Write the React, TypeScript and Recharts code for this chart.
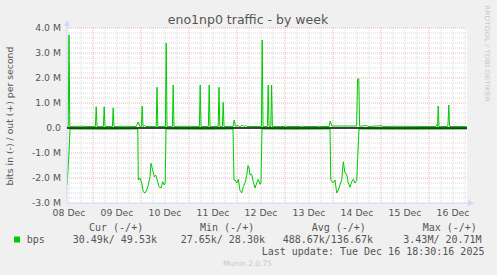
import React from 'react';
import { LineChart, Line, XAxis, YAxis, ReferenceLine } from 'recharts';

// hours counted from 08 Dec 00:00, values in Mbit/s
const dayLabels = ['08 Dec', '09 Dec', '10 Dec', '11 Dec', '12 Dec', '13 Dec', '14 Dec', '15 Dec', '16 Dec'];
const dayTicks = [12, 36, 60, 84, 108, 132, 156, 180, 204];
const yTicks = [-3, -2, -1, 0, 1, 2, 3, 4];

// out (+)
const outHours = [
  11, 11.6, 12, 12.4, 18, 22, 25.2, 25.6, 26, 29.2, 29.6, 30, 33.7, 34.1, 34.5, 40,
  45.6, 46.6, 47.4, 48.2, 48.6, 49, 49.8, 50.4, 55.6, 56, 56.4, 60.2, 60.6, 61,
  63.7, 64.1, 64.5, 70, 77.2, 77.6, 78, 81.7, 82.1, 82.5, 86.6, 87, 87.4, 88.7, 89.1, 89.5,
  94, 94.6, 95.2, 96.5, 97.2, 99, 99.6, 100.5, 101, 108.2, 108.6, 109, 111.2, 111.6, 112,
  112.9, 113.3, 113.7, 120, 120.4, 120.8, 128.2, 128.6, 129, 136.6, 137, 137.4,
  142, 142.6, 143.4, 148, 155.8, 156.3, 156.9, 157.3, 161, 161.4, 168.5, 169, 175, 190,
  195.5, 195.9, 196.3, 196.6, 197, 201.2, 201.5, 201.9, 202.3, 210.9,
];
const outValues = [
  0.06, 0.06, 3.72, 0.06, 0.07, 0.06, 0.06, 0.85, 0.06, 0.06, 0.85, 0.06, 0.06, 0.81, 0.06, 0.07,
  0.06, 0.24, 0.06, 0.06, 0.88, 0.06, 0.1, 0.06, 0.06, 1.63, 0.06, 0.06, 3.4, 0.06,
  0.06, 1.72, 0.06, 0.07, 0.06, 1.72, 0.06, 0.06, 1.72, 0.06, 0.06, 1.63, 0.06, 0.06, 1.03, 0.06,
  0.06, 0.32, 0.07, 0.1, 0.06, 0.11, 0.06, 0.1, 0.06, 0.06, 3.52, 0.06, 0.06, 1.72, 0.06,
  0.06, 1.72, 0.06, 0.06, 0.1, 0.06, 0.06, 0.09, 0.06, 0.06, 0.09, 0.06,
  0.06, 0.28, 0.08, 0.08, 0.08, 1.96, 1.96, 0.07, 0.1, 0.06, 0.09, 0.06, 0.07, 0.06,
  0.06, 0.13, 0.06, 0.88, 0.06, 0.06, 0.15, 0.92, 0.06, 0.06,
];

// in (-)
const inHours = [
  11, 12, 12.5, 30, 46.4, 46.65, 47.5, 48.35, 49.15, 50, 50.85, 51.65, 52.5, 53, 53.85,
  54.65, 55.35, 56.15, 57, 58, 58.85, 59.65, 60.1, 60.5, 80,
  94, 94.5, 95, 95.85, 96.65, 97.5, 98.35, 99.15, 100, 100.85, 101.5, 102, 102.5, 103.35,
  104.15, 105, 105.85, 106.65, 107.5, 108, 108.5, 125,
  142.5, 142.9, 144.15, 145, 145.85, 146.65, 147.5, 148.35, 149.15, 150, 150.85, 151.65,
  152.5, 153.35, 154.15, 155, 155.85, 157, 180, 210.9,
];
const inValues = [
  -2.3, -1.0, -0.04, -0.05, -0.04, -2.08, -2.0, -2.2, -2.55, -2.6, -2.48, -2.28, -1.95, -1.41, -1.68,
  -1.95, -1.88, -2.08, -2.35, -2.4, -2.15, -2.28, -2.2, -0.04, -0.05,
  -0.04, -2.08, -2.08, -2.2, -2.05, -2.5, -2.6, -2.35, -2.2, -1.9, -1.5, -1.6, -1.88, -1.85,
  -2.15, -2.4, -2.2, -2.05, -2.25, -2.2, -0.04, -0.05,
  -0.04, -2.08, -2.2, -2.08, -2.6, -2.48, -2.28, -2.08, -1.35, -1.8, -1.85, -2.2,
  -2.37, -2.15, -2.05, -2.2, -2.1, -0.04, -0.05, -0.04,
];

const legendHeaders = ['Cur (-/+)', 'Min (-/+)', 'Avg (-/+)', 'Max (-/+)'];
const legendValues = ['30.49k/ 49.53k', '27.65k/ 28.30k', '488.67k/136.67k', '3.43M/ 20.71M'];

const outData = outHours.map((h, i) => ({ h, v: outValues[i] }));
const inData = inHours.map((h, i) => ({ h, v: inValues[i] }));

const xMajor: number[] = [];
const xMinor: number[] = [];
for (let h = 12; h <= 210; h += 6) (h % 24 === 0 ? xMajor : xMinor).push(h);
const yMajor = [-2, -1, 1, 2, 3, 4];
const yMinor: number[] = [];
for (let i = -15; i <= 20; i++) if (i % 5 !== 0) yMinor.push(i / 5);

const GREEN = '#00CC00';
const FONT = '#555555';
const AXIS = '#CFD6F8';
const sans = 'DejaVu Sans, sans-serif';
const mono = 'DejaVu Sans Mono, monospace';

const fmtY = (v: number) => (v === 0 ? '0.0' : `${v.toFixed(1)} M`);
const fmtX = (v: number) => dayLabels[dayTicks.indexOf(v)] ?? '';

export default function App() {
  const headerX = [89, 200, 311.7, 422.7];
  const valueX = [72.7, 180.7, 282.7, 403.3];
  return (
    <div style={{ position: 'absolute', left: 0, top: 0, width: 497, height: 275, background: '#F0F0F0' }}>
      <div style={{ position: 'absolute', left: 67, top: 28, width: 400, height: 175, background: '#FFFFFF' }} />
      <div style={{ position: 'absolute', left: 0, top: 0 }}>
        <LineChart width={497} height={275} margin={{ top: 28, right: 30, bottom: 42, left: 0 }}>
          <XAxis
            dataKey="h"
            type="number"
            domain={[11, 211]}
            ticks={dayTicks}
            tickFormatter={fmtX}
            allowDataOverflow
            height={30}
            tickLine={false}
            tickSize={0}
            tickMargin={6}
            axisLine={{ stroke: AXIS }}
            tick={{ fontSize: 9.3, fontFamily: sans, fill: FONT }}
            interval={0}
          />
          <YAxis
            type="number"
            domain={[-3, 4]}
            ticks={yTicks}
            tickFormatter={fmtY}
            width={67}
            tickLine={false}
            tickSize={0}
            tickMargin={6}
            axisLine={{ stroke: AXIS }}
            tick={{ fontSize: 9.3, fontFamily: sans, fill: FONT }}
            interval={0}
          />
          {yMinor.map((v) => (
            <ReferenceLine key={`ym${v}`} y={v} stroke="#dadada" strokeDasharray="1 1" />
          ))}
          {xMinor.map((v) => (
            <ReferenceLine key={`xm${v}`} x={v} stroke="#dadada" strokeDasharray="1 1" />
          ))}
          {yMajor.map((v) => (
            <ReferenceLine key={`yM${v}`} y={v} stroke="#ebb4b4" strokeDasharray="1 1" />
          ))}
          {xMajor.map((v) => (
            <ReferenceLine key={`xM${v}`} x={v} stroke="#ebb4b4" strokeDasharray="1 1" />
          ))}
          <Line data={inData} dataKey="v" type="linear" stroke={GREEN} strokeWidth={1} dot={false} isAnimationActive={false} />
          <Line data={outData} dataKey="v" type="linear" stroke={GREEN} strokeWidth={1} dot={false} isAnimationActive={false} />
          <ReferenceLine y={0} stroke="#000000" strokeWidth={1.5} zIndex={1000} />
        </LineChart>
      </div>
      <svg width={497} height={275} style={{ position: 'absolute', left: 0, top: 0, pointerEvents: 'none' }}>
        <line x1={67} y1={28} x2={67} y2={24} stroke={AXIS} />
        <polygon points="64,26 70,26 67,20" fill={AXIS} />
        <line x1={467} y1={203} x2={469} y2={203} stroke={AXIS} />
        <polygon points="468,200 468,206 474,203" fill={AXIS} />
        <text x={248} y={24} textAnchor="middle" fontFamily={sans} fontSize={12.5} fill={FONT}>
          eno1np0 traffic - by week
        </text>
        <text
          x={0}
          y={0}
          transform="translate(13,116) rotate(-90)"
          textAnchor="middle"
          fontFamily={sans}
          fontSize={9.3}
          fill={FONT}
        >
          bits in (-) / out (+) per second
        </text>
        <text
          x={0}
          y={0}
          transform="translate(485,53.5) rotate(90)"
          textAnchor="middle"
          fontFamily={sans}
          fontSize={6.5}
          fill="#c8c8c8"
          textLength={97}
          lengthAdjust="spacingAndGlyphs"
        >
          RRDTOOL / TOBI OETIKER
        </text>
        {legendHeaders.map((t, i) => (
          <text key={t} x={headerX[i]} y={231} fontFamily={mono} fontSize={10} fill={FONT} style={{ whiteSpace: 'pre' }}>
            {t}
          </text>
        ))}
        <rect x={14} y={236.5} width={6} height={6} fill={GREEN} />
        <text x={26.7} y={243} fontFamily={mono} fontSize={10} fill={FONT}>
          bps
        </text>
        {legendValues.map((t, i) => (
          <text key={t} x={valueX[i]} y={243} fontFamily={mono} fontSize={10} fill={FONT} style={{ whiteSpace: 'pre' }}>
            {t}
          </text>
        ))}
        <text x={261.7} y={254.5} fontFamily={mono} fontSize={10} fill={FONT} style={{ whiteSpace: 'pre' }}>
          Last update: Tue Dec 16 18:30:16 2025
        </text>
        <text x={247.5} y={266} textAnchor="middle" fontFamily={sans} fontSize={7.5} fill="#c8c8c8">
          Munin 2.0.75
        </text>
      </svg>
    </div>
  );
}
